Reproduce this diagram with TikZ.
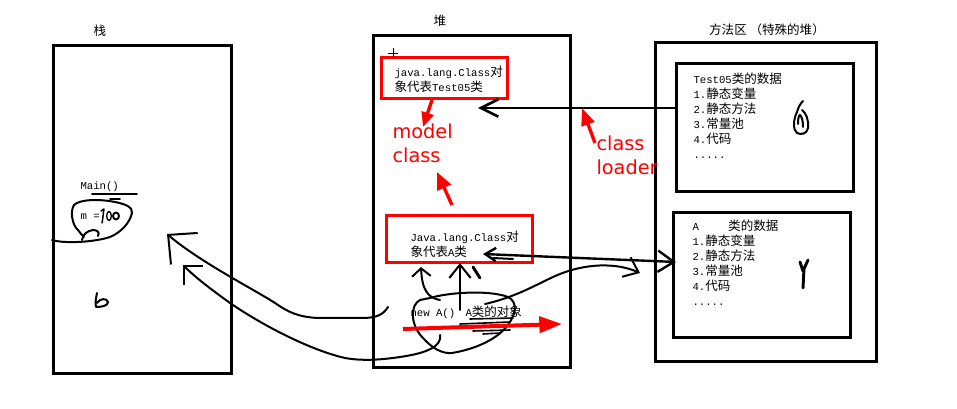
\documentclass[tikz,border=0pt]{standalone}
\usepackage{fontspec}
\setmonofont{Liberation Mono}[Scale=0.85]
\newfontfamily\cjk{Noto Sans CJK SC}
\newfontfamily\redfont{DejaVu Sans}
\usetikzlibrary{arrows.meta}

\tikzset{every picture/.style={line width=0.75pt}}
\tikzset{
  area/.style={draw, line width=2.25pt, inner sep=0pt, outer sep=0pt},
  redbox/.style={area, draw=red},
  cntxt/.style={font=\cjk\fontsize{9.4}{11.25}\selectfont, inner sep=0pt, align=left},
  monotxt/.style={font=\ttfamily\fontsize{9.4}{11.25}\selectfont, inner sep=0pt},
  redtxt/.style={text=red, font=\redfont\fontsize{14.5}{18}\selectfont, inner sep=0pt, align=left},
  hand/.style={line width=1.5pt, line cap=round, line join=round},
  redarrow/.style={draw=red, line width=2.5pt}
}

\begin{document}
\begin{tikzpicture}[x=0.75pt,y=0.75pt,yscale=-1]
	\useasboundingbox (0,0) rectangle (957,409);
	
	%Shape: Rectangle [stack, heap, method area]
	\node (stack) [area, minimum width=133.5pt, minimum height=246pt] at (142,210) {};
	\node (heap) [area, minimum width=147.75pt, minimum height=249pt] at (471.5,202) {};
	\node (meth) [area, minimum width=165.75pt, minimum height=239.25pt] at (765.5,202.5) {};
	\node (m1) [area, minimum width=132.75pt, minimum height=96pt] at (764.5,128) {};
	\node (m2) [area, minimum width=132.75pt, minimum height=93.75pt] at (761.5,275.5) {};
	%Shape: Rectangle [class objects]
	\node (clsT) [redbox, minimum width=94.5pt, minimum height=30.75pt] at (444,78.5) {};
	\node (clsA) [redbox, minimum width=109.5pt, minimum height=35.25pt] at (459,239.5) {};
	
	% Text Node
	\node (stackT) [cntxt] at (100,31) {栈};
	% Text Node
	\node (heapT) [cntxt] at (440,21) {堆};
	% Text Node
	\node (methT) [cntxt] at (767,30) {方法区 （特殊的堆）};
	% Text Node
	\node (tTxt) [cntxt, anchor=west] at (394,79) {{\ttfamily java.lang.Class}对\\象代表{\ttfamily Test05}类};
	% Text Node
	\node (aTxt) [cntxt, anchor=west] at (410,244) {{\ttfamily Java.lang.Class}对\\象代表{\ttfamily A}类};
	% Text Node
	\node (m1Txt) [cntxt, anchor=west] at (693,115.5) {{\ttfamily Test05}类的数据\\{\ttfamily 1.}静态变量\\{\ttfamily 2.}静态方法\\{\ttfamily 3.}常量池\\{\ttfamily 4.}代码\\{\ttfamily .....}};
	% Text Node
	\node (m2Txt) [cntxt, anchor=west] at (692,262.5) {{\ttfamily A}\hspace{22pt}类的数据\\{\ttfamily 1.}静态变量\\{\ttfamily 2.}静态方法\\{\ttfamily 3.}常量池\\{\ttfamily 4.}代码\\{\ttfamily .....}};
	% Text Node
	\node (mainTxt) [monotxt, anchor=west] at (80,187) {Main()};
	% Text Node
	\node (mTxt) [monotxt, anchor=west] at (80,217) {m =};
	% Text Node
	\node (newTxt) [monotxt, anchor=west] at (410,314) {new A()};
	% Text Node
	\node (objTxt) [cntxt, anchor=west] at (465,312) {{\ttfamily A}类的对象};
	% Text Node
	\node (modelTxt) [redtxt, anchor=west] at (392,143) {model\\class};
	% Text Node
	\node (loaderTxt) [redtxt, anchor=west] at (596,155) {class\\loader};
	
	%Free ends
	\coordinate (t5in) at (478,108);
	\coordinate (aL) at (483,254);
	\coordinate (aR) at (676,262);
	\coordinate (c1s) at (388,307);
	\coordinate (c1e) at (167,234);
	\coordinate (c2s) at (440,335);
	\coordinate (c2e) at (183,265);
	\coordinate (c3s) at (485,304);
	\coordinate (c3e) at (640,273);
	\coordinate (v0) at (460,310);
	\coordinate (u0) at (440,300);
	\coordinate (u1) at (421,267);
	
	%Straight Lines [method area -> Test05 class]
	\draw [line width=2pt, -{Straight Barb[length=13pt,width=13pt]}] (m1.west |- t5in) -- (t5in);
	%Straight Lines [A class <-> method area]
	\draw [hand, line width=1.8pt, {Straight Barb[length=8pt,width=10pt]}-{Straight Barb[length=12pt,width=16pt]}] (aL) -- (aR);
	\draw [hand] (493,258) -- (513,259);
	%Curve Lines [heap -> stack]
	\draw [hand, -{Straight Barb[length=16pt,width=31pt]}] (c1s) .. controls (383,315) and (376,318) .. (362,318) -- (318,318) .. controls (298,317) and (288,312) .. (275,303) .. controls (255,290) and (200,262) .. (c1e);
	\draw [hand, -{Straight Barb[length=10pt,width=20pt]}] (c2s) .. controls (442,346) and (428,353) .. (400,357) .. controls (380,360) and (362,361) .. (345,358) .. controls (310,350) and (262,325) .. (230,303) .. controls (212,290) and (196,278) .. (c2e);
	%Curve Lines [object -> method area]
	\draw [hand, -{Straight Barb[length=10pt,width=16pt]}] (c3s) .. controls (520,296) and (540,282) .. (560,274) .. controls (585,264) and (615,262) .. (c3e);
	%Curve Lines [object -> A class]
	\draw [hand, -{Straight Barb[length=10pt,width=16pt]}] (v0) -- (v0 |- clsA.south);
	\draw [hand, -{Straight Barb[length=6pt,width=14pt]}] (u0) .. controls (428,298) and (422,290) .. (u1);
	\draw [hand, line width=2.2pt] (473,267) -- (480,278);
	%Shape: Polygon Curved [object]
	\draw [hand] (420,300) .. controls (410,305) and (410,325) .. (423,338) .. controls (432,348) and (442,354) .. (452,353) .. controls (470,350) and (495,342) .. (508,325) .. controls (516,314) and (518,302) .. (508,297) .. controls (490,290) and (450,292) .. (430,298) -- (420,300);
	\draw [hand, line width=1.2pt] (460,324) -- (510,322) (470,319) -- (513,318) (473,331) -- (510,330) (483,334) -- (500,333);
	
	%Red arrows
	\draw [redarrow, -{Triangle[length=11pt,width=9pt]}] (432,100) -- (423,127);
	\draw [redarrow, -{Triangle[length=13pt,width=11pt]}] (452,205) -- (437,172);
	\draw [redarrow, -{Triangle[length=13pt,width=10pt]}] (595,143) -- (582,108);
	\draw [redarrow, line width=3pt, -{Triangle[length=17pt,width=12pt]}] (403,329) -- (562,324);
	
	%Shape: Scribbles [stack]
	\draw [hand, line width=1.2pt] (92,194) -- (137,194) (110,199) -- (120,199);
	\draw [hand] (52,240) .. controls (65,244) and (95,242) .. (110,237) .. controls (122,232) and (130,222) .. (132,213) .. controls (133,207) and (125,204) .. (115,202) .. controls (100,199) and (80,199) .. (74,205) .. controls (70,211) and (72,225) .. (78,230) .. controls (80,233) and (82,235) .. (84,237);
	\draw [hand] (82,240) .. controls (83,234) and (87,231) .. (93,230) .. controls (97,230) and (100,232) .. (98,236);
	\draw [hand, line width=1.1pt] (101,211) -- (104,209) .. controls (103,214) and (103,219) .. (102,223);
	\draw [hand, line width=1pt] (109,216) ellipse [x radius=2.3, y radius=4.5];
	\draw [hand, line width=1.4pt] (116,216) ellipse [x radius=3, y radius=3.5];
	\draw [hand] (97,293) .. controls (96,298) and (95,303) .. (96,307) .. controls (101,307) and (108,306) .. (108,302) .. controls (107,298) and (100,298) .. (97,303);
	%Shape: Scribbles [method area]
	\draw [hand] (803,101) .. controls (800,104) and (798,108) .. (797,112) .. controls (793,120) and (793,130) .. (797,133) .. controls (801,135) and (807,134) .. (808,128) .. controls (809,120) and (806,113) .. (802,110);
	\draw [hand] (798,124) .. controls (798,118) and (799,115) .. (800,115) .. controls (802,117) and (803,121) .. (803,127);
	\draw [hand, line width=2.2pt] (800,262) -- (803,271) -- (808,260) (804,268) -- (803,288);
	%Cursor
	\draw [line width=0.6pt] (388,53) -- (398,53) (393,48) -- (393,58);
	
\end{tikzpicture}
\end{document}
